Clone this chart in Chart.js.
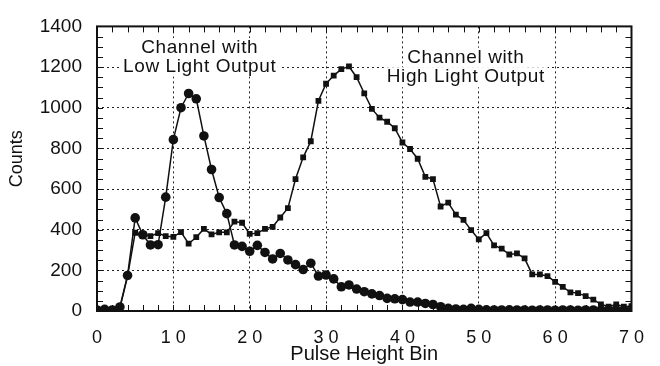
<!DOCTYPE html>
<html>
<head>
<meta charset="utf-8">
<script src="https://cdn.jsdelivr.net/npm/chart.js@4/dist/chart.umd.min.js"></script>
<style>
  html,body{margin:0;padding:0;background:#fff;}
  #wrap{width:660px;height:366px;}
</style>
</head>
<body>
<div id="wrap"><canvas id="c" width="660" height="366"></canvas></div>
<script>
// ---- data ----
const bins = [0,1,2,3,4,5,6,7,8,9,10,11,12,13,14,15,16,17,18,19,20,21,22,23,24,25,26,27,28,29,30,31,32,33,34,35,36,37,38,39,40,41,42,43,44,45,46,47,48,49,50,51,52,53,54,55,56,57,58,59,60,61,62,63,64,65,66,67,68,69,70];
const lowLight = [5,8,5,20,175, 458,375,325,326,560, 843,1000,1070,1044,861, 696,558,479,325,318, 294,323,288,256,283, 251,228,204,235,172, 177,158,119,128,108, 95,84,76,62,60, 56,44,44,37,32, 21,13,10,8,13, 8, 6,5,5,6,5, 5,4,5,5,4, 5,5,4,5,5, 4,5,5,4,5];
const highLight = [5,5,5,15,170, 385,378,368,383,368, 365,388,331,363,404, 377,387,387,440,434, 379,383,404,414,460, 506,649,756,835,1034, 1118,1158,1190,1203,1150, 1071,994,951,931,899, 829,797,749,660,649, 514,533,474,448,398, 352,383,323,307,278, 283,259,180,180,172, 143,119,92,88,73, 56,33,21,33,21, 24];
const xTicks = [0,10,20,30,40,50,60,70];
const yTicks = [0,200,400,600,800,1000,1200,1400];
const lowLabel = ["Channel with","Low Light Output"];
const highLabel = ["Channel with","High Light Output"];
const xTitle = "Pulse Height Bin";
const yTitle = "Counts";

// ---- layout / style config ----
const FONT = '"Liberation Sans", Arial, Helvetica, sans-serif';
const annotations = [
  {lines: lowLabel, x: 13.45, y: [1293, 1203]},
  {lines: highLabel, x: 48.3, y: [1246, 1150]}
];

const toXY = arr => bins.map((b,i)=>({x:b, y:arr[i]}));

const deco = {
  id: 'deco',
  beforeDatasetsDraw(chart){
    const {ctx, scales:{x, y}} = chart;
    ctx.save();
    ctx.font = '19px ' + FONT;
    if ('letterSpacing' in ctx) ctx.letterSpacing = '0.6px';
    ctx.textAlign = 'center';
    ctx.textBaseline = 'middle';
    annotations.forEach(a=>{
      const cx = x.getPixelForValue(a.x);
      a.lines.forEach((t,i)=>{
        const cy = y.getPixelForValue(a.y[i]);
        const w = ctx.measureText(t).width;
        ctx.fillStyle = '#fff';
        ctx.fillRect(cx - w/2 - 3, cy - 10, w + 6, 20);
      });
      a.lines.forEach((t,i)=>{
        const cy = y.getPixelForValue(a.y[i]);
        ctx.fillStyle = '#111';
        ctx.fillText(t, cx, cy);
      });
    });
    ctx.restore();
  },
  afterDraw(chart){
    const {ctx, chartArea:ca, scales:{x, y}} = chart;
    ctx.save();
    ctx.strokeStyle = '#111';
    ctx.lineWidth = 1;
    ctx.beginPath();
    for(let v=0; v<=1400; v+=50){
      const py = Math.round(y.getPixelForValue(v))+0.5;
      ctx.moveTo(ca.left, py); ctx.lineTo(ca.left+6, py);
      ctx.moveTo(ca.right, py); ctx.lineTo(ca.right-6, py);
    }
    for(let v=0; v<=70; v+=2){
      const px = Math.round(x.getPixelForValue(v))+0.5;
      ctx.moveTo(px, ca.bottom); ctx.lineTo(px, ca.bottom-6);
      ctx.moveTo(px, ca.top); ctx.lineTo(px, ca.top+6);
    }
    ctx.stroke();
    ctx.lineWidth = 2;
    ctx.strokeRect(ca.left, ca.top, ca.right-ca.left, ca.bottom-ca.top);
    // y axis title
    ctx.translate(17, (ca.top + ca.bottom)/2 - 10);
    ctx.rotate(-Math.PI/2);
    ctx.font = '18px ' + FONT;
    ctx.fillStyle = '#111';
    ctx.textAlign = 'center';
    ctx.textBaseline = 'middle';
    ctx.fillText(yTitle, 0, 0);
    ctx.restore();
  }
};

new Chart(document.getElementById('c'), {
  type: 'line',
  data: {
    datasets: [
      {
        label: 'Low Light Output',
        data: toXY(lowLight),
        borderColor: '#111', backgroundColor: '#111',
        borderWidth: 1.5, pointStyle: 'circle', pointRadius: 4.8,
        pointBorderWidth: 0, tension: 0
      },
      {
        label: 'High Light Output',
        data: toXY(highLight),
        borderColor: '#111', backgroundColor: '#111',
        borderWidth: 1.5, pointStyle: 'rect', pointRadius: 4.1,
        pointBorderWidth: 0, tension: 0
      }
    ]
  },
  options: {
    responsive: false,
    animation: false,
    events: [],
    layout: {padding: {left: 0, right: 23, top: 19, bottom: 0}},
    plugins: {legend: {display: false}, tooltip: {enabled: false}},
    scales: {
      x: {
        type: 'linear', min: 0, max: 70,
        afterBuildTicks: s => { s.ticks = xTicks.map(v=>({value:v})); },
        afterFit: s => { s.height = 55; },
        grid: {color: '#222', lineWidth: 1, drawTicks: false},
        border: {display: false, dash: [2,3]},
        ticks: {
          color: '#111', font: {family: FONT, size: 18}, padding: 16,
          maxRotation: 0, autoSkip: false,
          callback: v => String(v).split('').join(' ')
        },
        title: {display: true, text: xTitle, color: '#111', font: {family: FONT, size: 20}, padding: {top: 0, bottom: 0}}
      },
      y: {
        min: 0, max: 1400,
        afterBuildTicks: s => { s.ticks = yTicks.map(v=>({value:v})); },
        afterFit: s => { s.width = 97; },
        grid: {color: '#222', lineWidth: 1, drawTicks: false},
        border: {display: false, dash: [2,3]},
        ticks: {color: '#111', font: {family: FONT, size: 19}, padding: 15, autoSkip: false,
          callback: v => String(v)},
        title: {display: false}
      }
    }
  },
  plugins: [deco]
});
</script>
</body>
</html>
